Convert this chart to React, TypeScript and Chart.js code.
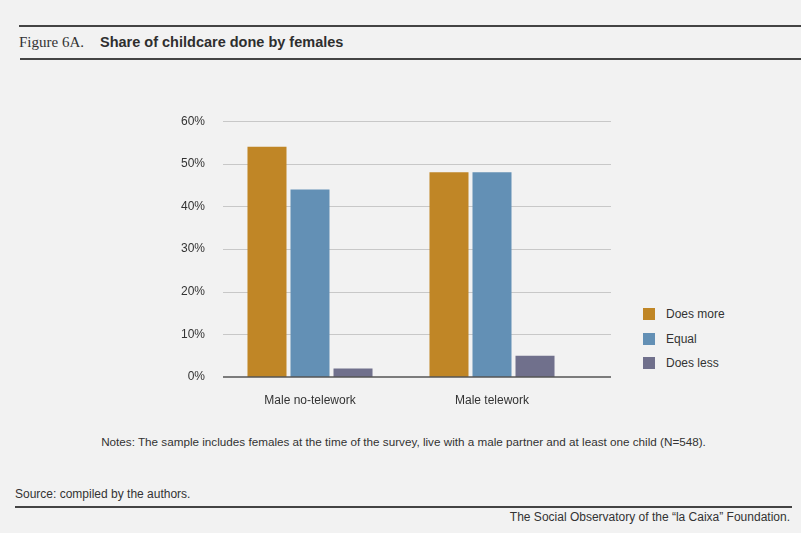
import React, { useEffect, useRef } from 'react';
import Chart from 'chart.js/auto';

const categories = ['Male no-telework', 'Male telework'];
const seriesNames = ['Does more', 'Equal', 'Does less'];
const doesMore = [54, 48];
const equal = [44, 48];
const doesLess = [2, 5];
const yTicks = [0, 10, 20, 30, 40, 50, 60];
const colors = ['#c08626', '#6390b5', '#70708c'];

const SANS = '"Liberation Sans", Arial, sans-serif';

// gridlines run a bit past the category band on the right, like the original
const gridPlugin = {
  id: 'extendedGrid',
  beforeDatasetsDraw(chart: any) {
    const { ctx, chartArea, scales } = chart;
    ctx.save();
    scales.y.ticks.forEach((t: any) => {
      if (t.value === 0) return;
      const y = Math.round(scales.y.getPixelForValue(t.value)) + 0.5;
      ctx.strokeStyle = '#c8c8c8';
      ctx.lineWidth = 1;
      ctx.beginPath();
      ctx.moveTo(chartArea.left + 4, y);
      ctx.lineTo(chartArea.right + 28, y);
      ctx.stroke();
    });
    ctx.restore();
  },
  afterDatasetsDraw(chart: any) {
    const { ctx, chartArea, scales } = chart;
    const y = scales.y.getPixelForValue(0);
    ctx.save();
    ctx.strokeStyle = '#555555';
    ctx.lineWidth = 1.5;
    ctx.beginPath();
    ctx.moveTo(chartArea.left + 4, y);
    ctx.lineTo(chartArea.right + 28, y);
    ctx.stroke();
    ctx.restore();
  },
};

const App: React.FC = () => {
  const canvasRef = useRef<HTMLCanvasElement | null>(null);
  const chartInstance = useRef<Chart | null>(null);

  useEffect(() => {
    if (!canvasRef.current) return;
    const ctx = canvasRef.current.getContext('2d');
    if (chartInstance.current) chartInstance.current.destroy();

    const values = [doesMore, equal, doesLess];

    chartInstance.current = new Chart(ctx!, {
      type: 'bar',
      data: {
        labels: categories,
        datasets: seriesNames.map((name, i) => ({
          label: name,
          data: values[i],
          backgroundColor: colors[i],
          borderWidth: 0,
          categoryPercentage: 0.709,
          barPercentage: 0.907,
        })),
      },
      options: {
        responsive: true,
        maintainAspectRatio: false,
        animation: false,
        layout: { padding: { top: 11, right: 37, left: 0, bottom: 0 } },
        plugins: { legend: { display: false }, tooltip: { enabled: false } },
        scales: {
          x: {
            grid: { display: false },
            border: { display: false },
            ticks: { color: '#333', font: { family: SANS, size: 12 }, padding: 8 },
            afterFit: (scale: any) => { scale.height = 33; },
          },
          y: {
            min: 0,
            max: 60,
            grid: { display: false, drawTicks: false },
            border: { display: false },
            afterBuildTicks: (scale: any) => {
              scale.ticks = yTicks.map((v) => ({ value: v }));
            },
            ticks: {
              color: '#333',
              font: { family: SANS, size: 12 },
              padding: 14,
              callback: (value: any) => value + '%',
            },
            afterFit: (scale: any) => { scale.width = 59; },
          },
        },
      },
      plugins: [gridPlugin],
    });

    return () => {
      if (chartInstance.current) {
        chartInstance.current.destroy();
        chartInstance.current = null;
      }
    };
  }, []);

  const text: React.CSSProperties = { position: 'absolute', color: '#333', fontFamily: SANS, whiteSpace: 'nowrap' };

  return (
    <div style={{ position: 'absolute', left: 0, top: 0, width: 801, height: 533, background: '#f2f2f2', overflow: 'hidden' }}>
      <div style={{ position: 'absolute', left: 19, right: 0, top: 25, height: 2, background: '#444' }} />
      <div style={{ ...text, left: 19, top: 34, fontFamily: '"Liberation Serif", serif', fontSize: 15 }}>Figure 6A.</div>
      <div style={{ ...text, left: 100, top: 34, fontSize: 14.5, fontWeight: 'bold', color: '#2e2e2e' }}>
        Share of childcare done by females
      </div>
      <div style={{ position: 'absolute', left: 20, right: 0, top: 58, height: 2, background: '#444' }} />

      <div style={{ position: 'absolute', left: 160, top: 100, width: 460, height: 310 }}>
        <canvas ref={canvasRef}></canvas>
      </div>

      {seriesNames.map((name, i) => (
        <div key={name} style={{ position: 'absolute', left: 643, top: 308 + i * 24.5, height: 12, display: 'flex', alignItems: 'center' }}>
          <div style={{ width: 12, height: 12, background: colors[i] }} />
          <div style={{ marginLeft: 11, color: '#333', fontFamily: SANS, fontSize: 12, whiteSpace: 'nowrap' }}>{name}</div>
        </div>
      ))}

      <div style={{ ...text, left: 3, width: 801, top: 435, textAlign: 'center', fontSize: 11.7 }}>
        Notes: The sample includes females at the time of the survey, live with a male partner and at least one child (N=548).
      </div>

      <div style={{ ...text, left: 15, top: 487, fontSize: 12 }}>Source: compiled by the authors.</div>
      <div style={{ position: 'absolute', left: 15, width: 777, top: 506, height: 2, background: '#444' }} />
      <div style={{ ...text, right: 11, top: 510, fontSize: 12 }}>
        The Social Observatory of the “la Caixa” Foundation.
      </div>
    </div>
  );
};

export default App;
